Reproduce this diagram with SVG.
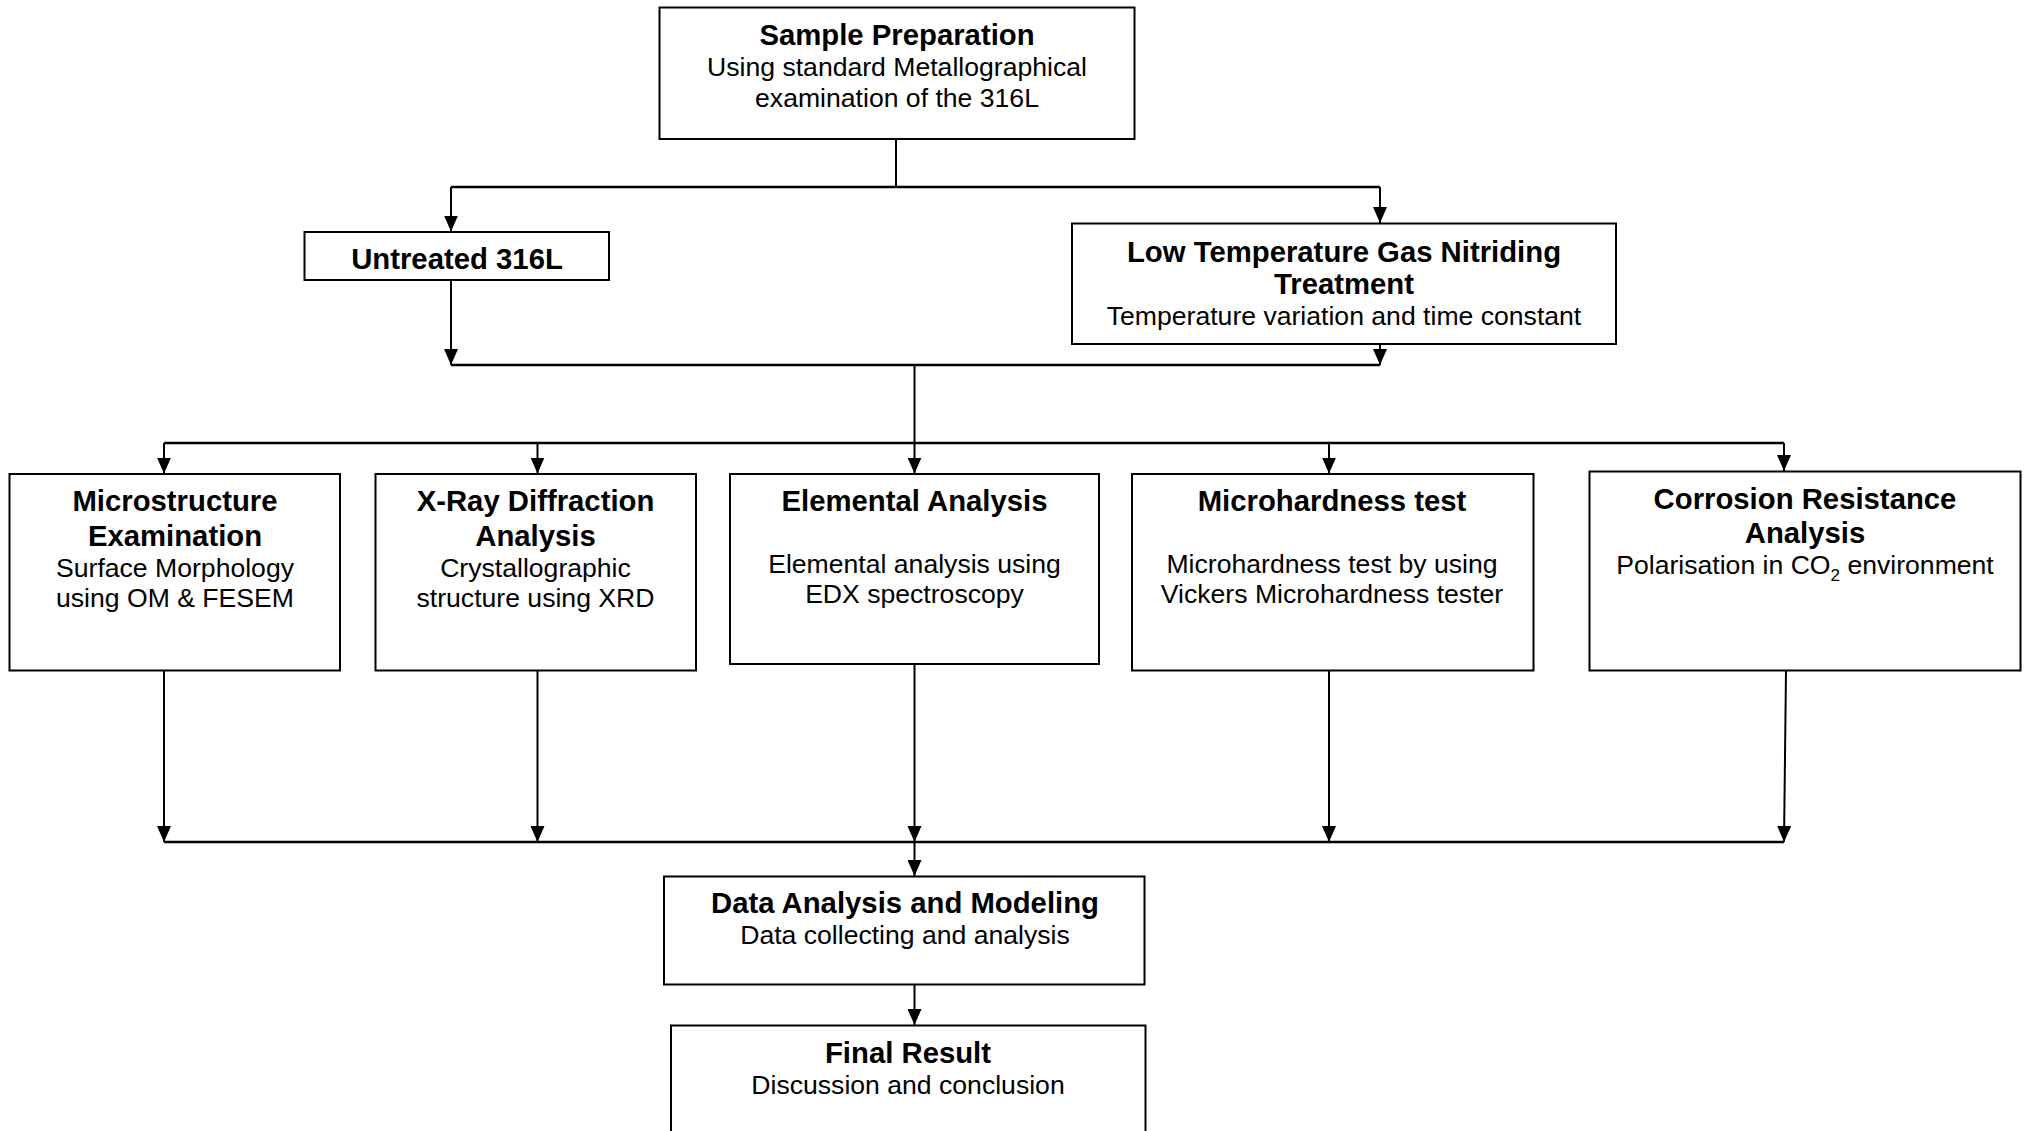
<svg xmlns="http://www.w3.org/2000/svg" width="2026" height="1131" viewBox="0 0 2026 1131">
<style>
.box{fill:#fff;stroke:#000;stroke-width:2}
.t{font-family:"Liberation Sans",Arial,sans-serif;text-anchor:middle;fill:#000}
.b{font-weight:bold;font-size:29.3px}
.r{font-size:26.6px}
.c{fill:none;stroke:#000;stroke-width:2}
.h{fill:none;stroke:#000;stroke-width:2.6}
</style>
<defs>
<marker id="ah" viewBox="0 0 16 14" refX="16" refY="7" markerWidth="16" markerHeight="14" markerUnits="userSpaceOnUse" orient="auto">
<path d="M0,0 L16,7 L0,14 z" fill="#000"/>
</marker>
</defs>
<rect width="2026" height="1131" fill="#fff"/>
<g id="connectors">
<line class="c" x1="896" y1="139" x2="896" y2="187"/>
<line class="h" x1="451" y1="187" x2="1380" y2="187"/>
<line class="c" x1="451" y1="187" x2="451" y2="231.5" marker-end="url(#ah)"/>
<line class="c" x1="1380" y1="187" x2="1380" y2="223" marker-end="url(#ah)"/>
<line class="c" x1="451" y1="280" x2="451" y2="365" marker-end="url(#ah)"/>
<line class="c" x1="1380" y1="344" x2="1380" y2="365" marker-end="url(#ah)"/>
<line class="h" x1="451" y1="365" x2="1380" y2="365"/>
<line class="c" x1="914.5" y1="365" x2="914.5" y2="443"/>
<line class="h" x1="164" y1="443" x2="1784" y2="443"/>
<line class="c" x1="164" y1="443" x2="164" y2="473.5" marker-end="url(#ah)"/>
<line class="c" x1="537.5" y1="443" x2="537.5" y2="473.5" marker-end="url(#ah)"/>
<line class="c" x1="914.5" y1="443" x2="914.5" y2="473.5" marker-end="url(#ah)"/>
<line class="c" x1="1329" y1="443" x2="1329" y2="473.5" marker-end="url(#ah)"/>
<line class="c" x1="1784" y1="443" x2="1784" y2="471" marker-end="url(#ah)"/>
<line class="c" x1="164" y1="671" x2="164" y2="842" marker-end="url(#ah)"/>
<line class="c" x1="537.5" y1="671" x2="537.5" y2="842" marker-end="url(#ah)"/>
<line class="c" x1="914.5" y1="664" x2="914.5" y2="842" marker-end="url(#ah)"/>
<line class="c" x1="1329" y1="671" x2="1329" y2="842" marker-end="url(#ah)"/>
<line class="c" x1="1786" y1="671" x2="1784" y2="842" marker-end="url(#ah)"/>
<line class="h" x1="164" y1="842" x2="1784" y2="842"/>
<line class="c" x1="914.5" y1="842" x2="914.5" y2="876" marker-end="url(#ah)"/>
<line class="c" x1="914.5" y1="985" x2="914.5" y2="1025" marker-end="url(#ah)"/>
</g>
<g id="sample-preparation">
<rect class="box" x="659.5" y="7.5" width="475" height="131.5"/>
<text class="t b" x="897" y="45">Sample Preparation</text>
<text class="t r" x="897" y="76">Using standard Metallographical</text>
<text class="t r" x="897" y="107">examination of the 316L</text>
</g>
<g id="untreated">
<rect class="box" x="304.5" y="232" width="304.5" height="48"/>
<text class="t b" x="457" y="269">Untreated 316L</text>
</g>
<g id="low-temperature">
<rect class="box" x="1072" y="223.5" width="544" height="120.5"/>
<text class="t b" x="1344" y="261.5">Low Temperature Gas Nitriding</text>
<text class="t b" x="1344" y="294">Treatment</text>
<text class="t r" x="1344" y="325">Temperature variation and time constant</text>
</g>
<g id="microstructure">
<rect class="box" x="9.5" y="474" width="330.5" height="196.5"/>
<text class="t b" x="175" y="511">Microstructure</text>
<text class="t b" x="175" y="545.5">Examination</text>
<text class="t r" x="175" y="576.5">Surface Morphology</text>
<text class="t r" x="175" y="606.5">using OM &amp; FESEM</text>
</g>
<g id="xrd">
<rect class="box" x="375.5" y="474" width="320.5" height="196.5"/>
<text class="t b" x="535.5" y="511">X-Ray Diffraction</text>
<text class="t b" x="535.5" y="545.5">Analysis</text>
<text class="t r" x="535.5" y="576.5">Crystallographic</text>
<text class="t r" x="535.5" y="606.5">structure using XRD</text>
</g>
<g id="elemental">
<rect class="box" x="730" y="474" width="369" height="190"/>
<text class="t b" x="914.5" y="511">Elemental Analysis</text>
<text class="t r" x="914.5" y="573">Elemental analysis using</text>
<text class="t r" x="914.5" y="603">EDX spectroscopy</text>
</g>
<g id="microhardness">
<rect class="box" x="1132" y="474" width="401.5" height="196.5"/>
<text class="t b" x="1332" y="511">Microhardness test</text>
<text class="t r" x="1332" y="573">Microhardness test by using</text>
<text class="t r" x="1332" y="603">Vickers Microhardness tester</text>
</g>
<g id="corrosion">
<rect class="box" x="1589.5" y="471.5" width="431" height="199"/>
<text class="t b" x="1805" y="509">Corrosion Resistance</text>
<text class="t b" x="1805" y="542.5">Analysis</text>
<text class="t r" x="1805" y="574">Polarisation in CO<tspan font-size="17" dy="7">2</tspan><tspan dy="-7"> environment</tspan></text>
</g>
<g id="data-analysis">
<rect class="box" x="664" y="876.5" width="480.5" height="108"/>
<text class="t b" x="905" y="913">Data Analysis and Modeling</text>
<text class="t r" x="905" y="944">Data collecting and analysis</text>
</g>
<g id="final-result">
<rect class="box" x="671" y="1025.5" width="474.5" height="120"/>
<text class="t b" x="908" y="1062.5">Final Result</text>
<text class="t r" x="908" y="1094">Discussion and conclusion</text>
</g>
</svg>
